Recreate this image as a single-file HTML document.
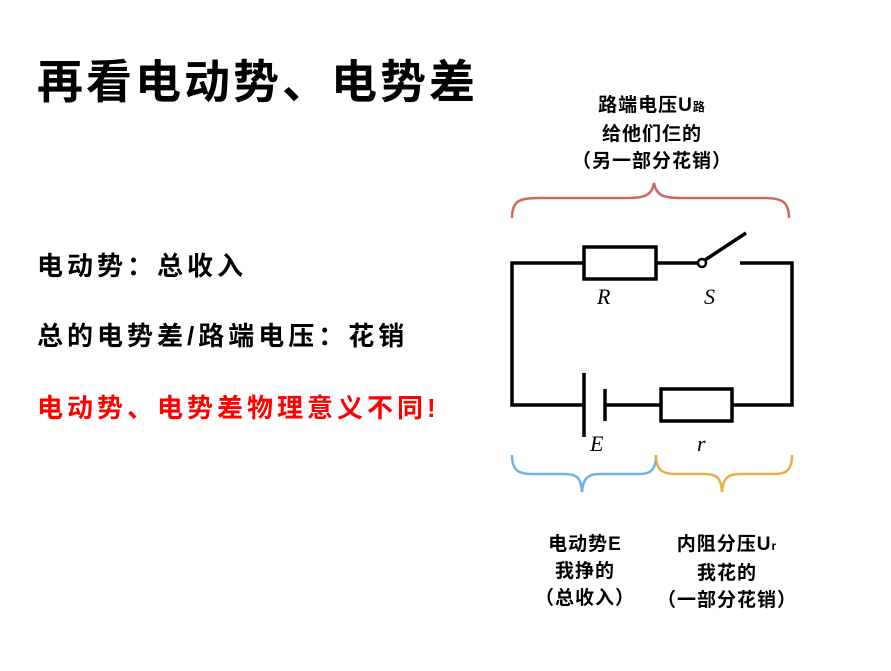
<!DOCTYPE html>
<html><head><meta charset="utf-8"><style>
body{margin:0;width:891px;height:671px;background:#fff;position:relative;overflow:hidden;font-family:"Liberation Sans","Noto Sans CJK SC",sans-serif;}
.t{position:absolute;white-space:nowrap;font-weight:bold;}
.c{position:absolute;text-align:center;font-weight:bold;font-size:19px;letter-spacing:1px;line-height:27px;white-space:nowrap;}
</style></head><body>
<div class="t" style="left:37px;top:54px;font-size:46px;letter-spacing:3px;line-height:56px;">再看电动势、电势差</div>
<div class="t" style="left:37px;top:250px;font-size:26px;letter-spacing:4px;line-height:32px;">电动势：总收入</div>
<div class="t" style="left:37px;top:320px;font-size:26px;letter-spacing:4px;line-height:32px;">总的电势差/路端电压：花销</div>
<div class="t" style="left:37px;top:392px;font-size:26px;letter-spacing:4px;line-height:32px;color:#f00;">电动势、电势差物理意义不同!</div>
<div class="c" style="left:552px;width:200px;top:92px;">路端电压U<span style="font-size:12px;">路</span><br>给他们仨的<br>（另一部分花销）</div>
<div class="c" style="left:505px;width:160px;top:531px;">电动势E<br>我挣的<br>（总收入）</div>
<div class="c" style="left:637px;width:180px;top:531px;">内阻分压U<span style="font-size:12px;">r</span><br>我花的<br>（一部分花销）</div>
<svg width="891" height="671" style="position:absolute;left:0;top:0" fill="none">
<g stroke="#000" stroke-width="3.5">
<polyline points="584,263 512,263 512,405 584,405"/>
<rect x="584" y="247" width="72" height="32"/>
<line x1="656" y1="263" x2="698" y2="263"/>
<line x1="705" y1="260" x2="746" y2="233"/>
<polyline points="740,263 792,263 792,405 732,405"/>
<line x1="584" y1="373" x2="584" y2="437"/>
<line x1="605" y1="389" x2="605" y2="421"/>
<line x1="605" y1="405" x2="661" y2="405"/>
<rect x="661" y="389" width="71" height="32"/>
</g>
<circle cx="702" cy="263" r="4" stroke="#000" stroke-width="2.5" fill="#fff"/>
<path d="M512,218 C512,200 520,198 540,198 L628,198 C645,198 652,195 654,183 C656,195 663,198 680,198 L765,198 C782,198 789,202 789,218" stroke="#d06a60" stroke-width="2.5"/>
<path d="M512,455 C512,470 518,474 532,474 L565,474 C577,474 581,478 582,492 C583,478 588,474 600,474 L640,474 C652,474 656,468 656,455" stroke="#6fb2e6" stroke-width="2.5"/>
<path d="M656,455 C656,470 662,474 676,474 L705,474 C717,474 721,478 722,492 C723,478 728,474 740,474 L775,474 C788,474 792,468 792,455" stroke="#e6b04a" stroke-width="2.5"/>
<g font-family="Liberation Serif,serif" font-style="italic" font-size="22" fill="#000">
<text x="597" y="304">R</text><text x="704" y="304">S</text>
<text x="590" y="451">E</text><text x="697" y="451">r</text>
</g>
</svg>
</body></html>
